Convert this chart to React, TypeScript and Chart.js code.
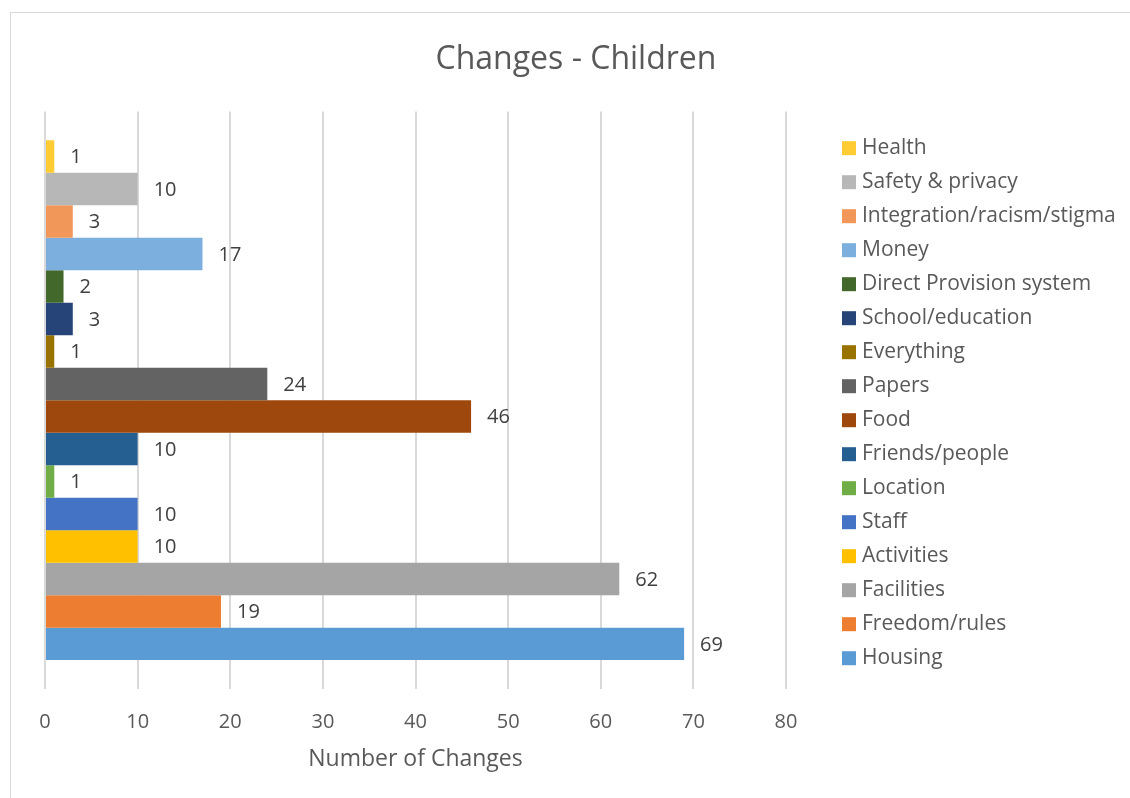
import React, { useEffect, useRef } from "react";
import { Chart, registerables } from "chart.js";

Chart.register(...registerables);

const categories = ["Children"];
const seriesNames = [
  "Health",
  "Safety & privacy",
  "Integration/racism/stigma",
  "Money",
  "Direct Provision system",
  "School/education",
  "Everything",
  "Papers",
  "Food",
  "Friends/people",
  "Location",
  "Staff",
  "Activities",
  "Facilities",
  "Freedom/rules",
  "Housing",
];
const seriesValues = [1, 10, 3, 17, 2, 3, 1, 24, 46, 10, 1, 10, 10, 62, 19, 69];
const seriesColors = [
  "#FFCD33",
  "#B7B7B7",
  "#F1975A",
  "#7CAFDD",
  "#43682B",
  "#264478",
  "#997300",
  "#636363",
  "#9E480E",
  "#255E91",
  "#70AD47",
  "#4472C4",
  "#FFC000",
  "#A5A5A5",
  "#ED7D31",
  "#5B9BD5",
];
const xTicks = [0, 10, 20, 30, 40, 50, 60, 70, 80];
const chartTitle = "Changes - Children";
const xTitle = "Number of Changes";

const FONT = "'Open Sans', 'Noto Sans', sans-serif";

const dataLabelPlugin = {
  id: "dataLabels",
  afterDatasetsDraw(chart: any) {
    const ctx = chart.ctx;
    ctx.save();
    ctx.font = `20px ${FONT}`;
    ctx.fillStyle = "#404040";
    ctx.textBaseline = "middle";
    ctx.textAlign = "left";
    chart.data.datasets.forEach((ds: any, i: number) => {
      const meta = chart.getDatasetMeta(i);
      meta.data.forEach((bar: any, j: number) => {
        ctx.fillText(String(ds.data[j]), bar.x + 16, bar.y + 1);
      });
    });
    ctx.restore();
  },
};

const legendPlugin = {
  id: "customLegend",
  afterDraw(chart: any) {
    const ctx = chart.ctx;
    const area = chart.chartArea;
    const n = chart.data.datasets.length;
    const spacing = 34;
    const cy = (area.top + area.bottom) / 2 + 3;
    const boxX = area.right + 56;
    ctx.save();
    ctx.font = `21px ${FONT}`;
    ctx.textBaseline = "middle";
    ctx.textAlign = "left";
    chart.data.datasets.forEach((ds: any, i: number) => {
      const y = cy + (i - (n - 1) / 2) * spacing;
      ctx.fillStyle = ds.backgroundColor;
      ctx.fillRect(boxX, y - 7, 14, 14);
      ctx.fillStyle = "#595959";
      ctx.fillText(ds.label, boxX + 20, y);
    });
    ctx.restore();
  },
};

export default function App() {
  const canvasRef = useRef<HTMLCanvasElement | null>(null);

  useEffect(() => {
    const canvas = canvasRef.current;
    if (!canvas) return;
    const chart = new Chart(canvas, {
      type: "bar",
      data: {
        labels: categories,
        datasets: seriesNames.map((name, i) => ({
          label: name,
          data: [seriesValues[i]],
          backgroundColor: seriesColors[i],
          borderWidth: 0,
          categoryPercentage: 0.9,
          barPercentage: 1.0,
        })),
      },
      options: {
        indexAxis: "y",
        responsive: false,
        animation: false,
        devicePixelRatio: 1,
        layout: { padding: { top: 0, bottom: 25, left: 22, right: 0 } },
        plugins: {
          legend: { display: false },
          tooltip: { enabled: false },
          title: {
            display: true,
            text: chartTitle,
            color: "#595959",
            font: { family: FONT, size: 32, weight: "normal" },
            padding: { top: 41, bottom: 32 },
          },
        },
        scales: {
          x: {
            type: "linear",
            min: 0,
            max: 80,
            afterBuildTicks: (scale: any) => {
              scale.ticks = xTicks.map((v) => ({ value: v }));
            },
            afterFit: (scale: any) => {
              scale.height = 84;
            },
            grid: { color: "#d9d9d9", lineWidth: 2, drawTicks: false },
            border: { display: false },
            ticks: {
              color: "#595959",
              font: { family: FONT, size: 20 },
              padding: 21,
            },
            title: {
              display: true,
              text: xTitle,
              color: "#595959",
              font: { family: FONT, size: 23 },
              padding: { top: 13, bottom: 0 },
            },
          },
          y: {
            type: "category",
            display: true,
            grid: { display: false },
            border: { display: false },
            ticks: { display: false },
            afterFit: (scale: any) => {
              scale.width = 23;
            },
          },
          yRight: {
            type: "linear",
            position: "right",
            display: true,
            grid: { display: false },
            border: { display: false },
            ticks: { display: false },
            afterFit: (scale: any) => {
              scale.width = 344;
            },
          },
        },
      },
      plugins: [dataLabelPlugin, legendPlugin],
    } as any);
    return () => chart.destroy();
  }, []);

  return (
    <div style={{ position: "absolute", left: 0, top: 0, width: 1130, height: 798, background: "#fff", overflow: "hidden" }}>
      <div
        style={{
          position: "absolute",
          left: 10,
          top: 12,
          width: 1140,
          height: 800,
          border: "1px solid #d9d9d9",
          boxSizing: "border-box",
        }}
      />
      <canvas ref={canvasRef} width={1130} height={798} style={{ position: "absolute", left: 0, top: 0 }} />
    </div>
  );
}
